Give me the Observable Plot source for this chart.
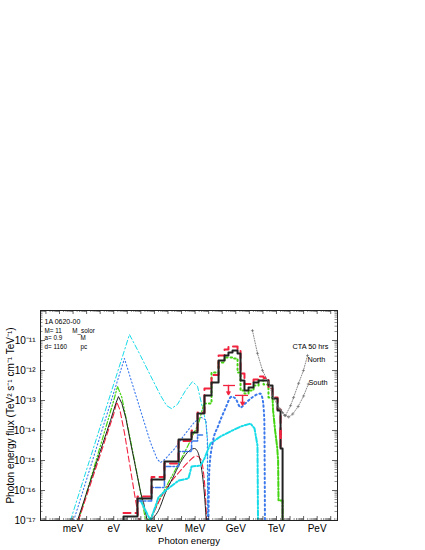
<!DOCTYPE html>
<html><head><meta charset="utf-8">
<script src="https://cdn.jsdelivr.net/npm/d3@7"></script>
<script src="https://cdn.jsdelivr.net/npm/@observablehq/plot@0.6"></script>
<style>body{margin:0;background:#fff;} svg{display:block}</style>
</head><body><div id="chart"></div>
<script>
// All values as log10: energy in eV, flux in TeV cm^-2 s^-1
// black thin model: thermal peak and MeV hump
const bkThE = [-2.67, -1.0, -0.24, 0.15, 0.35, 0.6, 0.9, 1.24, 1.6, 2.0, 2.2, 2.55];
const bkThF = [-17, -14.7, -13.67, -13.1, -12.87, -13.1, -13.6, -14.4, -15.2, -16.1, -16.4, -17.2];
const bkHuE = [2.56, 3.3, 3.82, 4.33, 4.92, 5.44, 5.96, 6.18, 6.45, 6.62, 6.75, 6.82];
const bkHuF = [-17, -16.67, -16.07, -15.6, -15.07, -14.73, -14.6, -14.7, -15.2, -15.8, -16.5, -17];
// red dashed model
const rdThE = [-2.6, 0.0, 0.22, 0.45, 0.8, 1.2, 1.6, 2.0];
const rdThF = [-17, -13.45, -13.05, -13.3, -14.1, -15.2, -16.3, -17.3];
const rdHuE = [2.7, 3.3, 4.0, 4.8, 5.5, 6.1, 6.4, 6.62, 6.78, 6.85];
const rdHuF = [-17, -16.4, -15.85, -15.4, -15.05, -14.85, -14.95, -15.4, -16.3, -17];
// green dash-dot model
const gnThE = [-2.6, 0.0, 0.28, 0.6, 1.24, 1.7, 2.0, 2.35];
const gnThF = [-17, -13.0, -12.53, -12.9, -14.33, -15.4, -16.1, -17];
const gnHuE = [2.45, 2.71, 3.45, 4.19, 4.92, 5.4, 5.66, 6.25, 6.62, 6.69];
const gnHuF = [-17, -16.93, -16.23, -15.6, -15.0, -14.57, -14.33, -13.77, -13.15, -13.1];
const gnHiE = [6.69, 7.21, 7.73, 8.17, 8.76, 9.13, 9.35, 9.64, 9.94, 10.31, 10.68, 11.05, 11.41, 11.71];
const gnHiF = [-13.1, -12.07, -11.73, -11.57, -11.6, -12.07, -12.67, -12.77, -12.67, -12.5, -12.33, -12.47, -12.9];
const gnTlE = [11.71, 11.75, 11.9, 12.05, 12.12, 12.15, 12.45, 12.45];
const gnTlF = [-12.9, -13.33, -14.0, -14.55, -15.0, -16.33, -16.33, -17];
// cyan thin dash-dot model
const cyE = [-3.19, 1.16, 1.97, 2.71, 3.45, 3.9, 4.26, 4.7, 5.29, 5.81, 6.18, 6.47, 6.77, 6.92, 6.95];
const cyF = [-17, -10.8, -11.5, -12.17, -12.83, -13.17, -13.27, -13.13, -12.67, -12.37, -12.53, -13.1, -13.67, -14.33, -17];
// cyan thick (lower) component
const cyLE = [1.97, 2.71, 3.3, 3.82, 4.78, 5.51, 5.74, 6.4, 6.69, 7.14, 7.87, 8.61, 9.35, 10.09, 10.38, 10.6, 10.64];
const cyLF = [-16.33, -17, -16.23, -16.0, -15.67, -15.6, -15.2, -15.17, -14.93, -14.43, -14.2, -14.03, -13.87, -13.77, -13.93, -14.5, -17];
// blue dotted thin model
const blE = [-2.95, 0.79, 1.75, 2.71, 3.2, 3.45, 3.8, 4.5, 5.2, 5.9, 6.4, 6.8, 6.9, 6.93];
const blF = [-17, -11.6, -13.0, -14.4, -14.95, -15.07, -14.95, -14.6, -14.15, -13.75, -13.55, -13.65, -14.3, -17];
// blue dotted thick GeV bump
const bgE = [6.98, 7.05, 7.3, 7.7, 8.2, 8.7, 9.0, 9.35, 9.7, 10.2, 10.8, 10.95, 11.1, 11.15];
const bgF = [-17, -15.3, -14.4, -13.85, -13.3, -12.87, -12.95, -13.23, -13.1, -12.9, -12.77, -12.9, -13.6, -17];
// blue dash-dot histogram (keV-MeV)
const bdE = [1.75, 2.79, 3.74, 4.78, 5.74, 6.18, 6.69];
const bdF = [-16.35, -15.9, -15.2, -14.7, -14.35, -14.15];
// black thick total histogram
const totE = [0.72, 1.75, 2.79, 3.74, 4.78, 5.74, 6.18, 6.69, 7.21, 7.73, 8.17, 8.46, 8.76, 9.13, 9.35, 9.64, 9.94, 10.31, 10.68, 11.05, 11.41, 11.71, 12.08, 12.30, 12.45];
const totF = [-16.87, -16.27, -15.63, -15.03, -14.3, -14.07, -13.43, -12.83, -12.4, -11.67, -11.5, -11.4, -11.33, -11.43, -12.33, -12.67, -12.57, -12.4, -12.33, -12.33, -12.5, -12.93, -13.33, -14.6];
// red dashed histogram
const rhF = [-16.75, -16.2, -15.55, -15.1, -14.35, -14.0, -13.4, -12.6, -12.15, -11.5, -11.3, -11.2, -11.2, -11.35, -12.1, -12.45, -12.45, -12.3, -12.2, -12.25, -12.6, -12.9, -13.3, -14.6];
// red upper limits
const ulX1 = [8.1, 8.98], ulX2 = [8.98, 9.94], ulXc = [8.46, 9.5], ulY = [-12.5, -12.83], ulYend = [-12.8, -13.15];
const redBarE = [12.3], redBarF1 = [-14.0], redBarF2 = [-14.3];
// CTA 50 hrs sensitivity
const ctaNE = [10.23, 10.6, 10.97, 11.41, 11.78, 12.15, 12.45, 12.67, 13.04, 13.26, 13.63, 13.99, 14.29];
const ctaNF = [-10.67, -11.43, -12.0, -12.4, -12.9, -13.23, -13.4, -13.5, -13.17, -12.9, -12.43, -12.0, -11.5];
const ctaSE = [12.3, 12.6, 12.9, 13.2, 13.6, 14.0, 14.35];
const ctaSF = [-13.3, -13.5, -13.55, -13.45, -13.2, -12.85, -12.45];
// labels
const xTickE = [-3, 0, 3, 6, 9, 12, 15];
const xTickNames = ["meV", "eV", "keV", "MeV", "GeV", "TeV", "PeV"];
const yTickExp = [-17, -16, -15, -14, -13, -12, -11];
const infoLeft = ["M= 11", "a= 0.9", "d= 1160"];
const infoRight = ["M_solor", "M", "pc"];
const infoF = [-10.67, -10.93, -11.23];

const P = (e, f) => e.map((v, i) => ({x: 10 ** v, y: 10 ** f[i]}));
function hist(edges, levels, floorStart, floorEnd) {
  const pts = [];
  if (floorStart) pts.push({x: 10 ** edges[0], y: 1e-17});
  levels.forEach((l, i) => pts.push({x: 10 ** edges[i], y: 10 ** l}));
  pts.push({x: 10 ** edges[edges.length - 1], y: 10 ** levels[levels.length - 1]});
  if (floorEnd) pts.push({x: 10 ** edges[edges.length - 1], y: 1e-17});
  return pts;
}
const sup = s => String(s).split("").map(c => ({"-": "⁻", "0": "⁰", "1": "¹", "2": "²", "3": "³", "4": "⁴", "5": "⁵", "6": "⁶", "7": "⁷", "8": "⁸", "9": "⁹"})[c]).join("");

const W = 425, H = 550, mt = 310, mb = 30, ml = 40, mr = 88;
const iw = W - ml - mr, ih = H - mt - mb;
const xMaj = d3.range(-5, 17).map(e => 10 ** e);
const xMin = d3.range(-6, 17).flatMap(e => d3.range(2, 10).map(k => k * 10 ** e)).filter(v => v > 10 ** -5.4 && v < 10 ** 16.5);
const yMaj = d3.range(-17, -9).map(e => 10 ** e);
const yMin = d3.range(-17, -10).flatMap(e => d3.range(2, 10).map(k => k * 10 ** e));

const RED = "#f2233f", GREEN = "#44d411", CYAN = "#18dbe8", BLUE = "#3a78ec", GRAY = "#6a6a6a";
const ln = (data, o) => Plot.line(data, {x: "x", y: "y", clip: true, ...o});

const chart = Plot.plot({
  width: W, height: H, marginTop: mt, marginBottom: mb, marginLeft: ml, marginRight: mr,
  style: {fontFamily: "Liberation Sans, Arial, sans-serif", fontSize: "9px", background: "#fff"},
  x: {type: "log", domain: [10 ** -5.4, 10 ** 16.5]},
  y: {type: "log", domain: [1e-17, 1e-10]},
  marks: [
    // thin model lines
    ln(P(cyE, cyF), {stroke: CYAN, strokeWidth: 1, strokeDasharray: "5,2.5,1.5,2.5"}),
    ln(P(blE, blF), {stroke: BLUE, strokeWidth: 1.1, strokeDasharray: "1.2,2.4"}),
    ln(P(gnThE, gnThF), {stroke: GREEN, strokeWidth: 1.2, strokeDasharray: "5,2,1.5,2,1.5,2"}),
    ln(P(gnHuE, gnHuF), {stroke: GREEN, strokeWidth: 1.2, strokeDasharray: "5,2,1.5,2,1.5,2"}),
    ln(P(rdThE, rdThF), {stroke: RED, strokeWidth: 1.1, strokeDasharray: "6,3"}),
    ln(P(rdHuE, rdHuF), {stroke: RED, strokeWidth: 1.1, strokeDasharray: "6,3", curve: "monotone-x"}),
    ln(P(bkThE, bkThF), {stroke: "#222", strokeWidth: 1}),
    ln(P(bkHuE, bkHuF), {stroke: "#222", strokeWidth: 1, curve: "monotone-x"}),
    // thick components
    ln(P(cyLE, cyLF), {stroke: CYAN, strokeWidth: 2, strokeDasharray: "5,2,1.5,2"}),
    ln(hist(bdE, bdF, false, false), {stroke: BLUE, strokeWidth: 1.6, strokeDasharray: "5,2,1.5,2", curve: "step-after"}),
    ln(P(bgE, bgF), {stroke: BLUE, strokeWidth: 2, strokeDasharray: "1.5,3", curve: "monotone-x"}),
    ln(hist(gnHiE, gnHiF, false, false), {stroke: GREEN, strokeWidth: 2, strokeDasharray: "1.5,3", curve: "step-after"}),
    ln(P(gnTlE, gnTlF), {stroke: GREEN, strokeWidth: 2, strokeDasharray: "5,2,1.5,2"}),
    ln(hist(totE, rhF, false, false), {stroke: RED, strokeWidth: 2, strokeDasharray: "7,5", curve: "step-after"}),
    ln(hist(totE, totF, true, true), {stroke: "#222", strokeWidth: 2, curve: "step-after"}),
    // red upper limits and bar
    Plot.ruleY(ulY.map((v, i) => ({x1: 10 ** ulX1[i], x2: 10 ** ulX2[i], y: 10 ** v})), {x1: "x1", x2: "x2", y: "y", stroke: RED, strokeWidth: 1.3}),
    Plot.arrow(ulY.map((v, i) => ({x: 10 ** ulXc[i], y1: 10 ** v, y2: 10 ** ulYend[i]})), {x: "x", y1: "y1", y2: "y2", stroke: RED, strokeWidth: 1.5, headLength: 5}),
    Plot.ruleX(redBarE.map((v, i) => ({x: 10 ** v, y1: 10 ** redBarF1[i], y2: 10 ** redBarF2[i]})), {x: "x", y1: "y1", y2: "y2", stroke: RED, strokeWidth: 2.5}),
    // CTA sensitivity
    ln(P(ctaNE, ctaNF), {stroke: GRAY, strokeWidth: 0.8, strokeDasharray: "1,1.5"}),
    ln(P(ctaSE, ctaSF), {stroke: GRAY, strokeWidth: 0.8, strokeDasharray: "1,1.5"}),
    Plot.dot(P(ctaNE, ctaNF).concat(P(ctaSE, ctaSF)), {x: "x", y: "y", symbol: "plus", r: 1.1, stroke: GRAY, strokeWidth: 0.6}),
    // texts
    Plot.text(["1A 0620-00"], {x: 10 ** -5.1, y: 10 ** -10.37, text: d => d, textAnchor: "start", fontSize: 7}),
    Plot.text(infoLeft, {x: 10 ** -5.1, y: (d, i) => 10 ** infoF[i], text: d => d, textAnchor: "start", fontSize: 6.3}),
    Plot.text(infoRight, {x: (d, i) => 10 ** (i === 0 ? -3.05 : -2.45), y: (d, i) => 10 ** infoF[i], text: d => d, textAnchor: "start", fontSize: 6.3}),
    Plot.text(["CTA 50 hrs"], {x: 10 ** 13.18, y: 10 ** -11.2, text: d => d, textAnchor: "start", fontSize: 7.3}),
    Plot.text(["North"], {x: 10 ** 14.29, y: 10 ** -11.63, text: d => d, textAnchor: "start", fontSize: 7.3}),
    Plot.text(["South"], {x: 10 ** 14.36, y: 10 ** -12.4, text: d => d, textAnchor: "start", fontSize: 7.3}),
    // frame ticks (inward)
    Plot.tickX(xMaj, {x: d => d, insetTop: ih - 4, stroke: "#222", strokeWidth: 0.7}),
    Plot.tickX(xMaj, {x: d => d, insetBottom: ih - 4, stroke: "#222", strokeWidth: 0.7}),
    Plot.tickX(xMin, {x: d => d, insetTop: ih - 2, stroke: "#222", strokeWidth: 0.5}),
    Plot.tickX(xMin, {x: d => d, insetBottom: ih - 2, stroke: "#222", strokeWidth: 0.5}),
    Plot.tickY(yMaj, {y: d => d, insetRight: iw - 5, stroke: "#222", strokeWidth: 0.7}),
    Plot.tickY(yMaj, {y: d => d, insetLeft: iw - 5, stroke: "#222", strokeWidth: 0.7}),
    Plot.tickY(yMin, {y: d => d, insetRight: iw - 2.5, stroke: "#222", strokeWidth: 0.5}),
    Plot.tickY(yMin, {y: d => d, insetLeft: iw - 2.5, stroke: "#222", strokeWidth: 0.5}),
    Plot.frame({stroke: "#222", strokeWidth: 1}),
    Plot.axisX({ticks: xTickE.map(e => 10 ** e), tickFormat: (d, i) => xTickNames[xTickE.indexOf(Math.round(Math.log10(d)))], tickSize: 0, tickPadding: 4, label: null, fontSize: 10}),
    Plot.axisY({ticks: yTickExp.map(e => 10 ** e), tickFormat: d => "10" + sup(Math.round(Math.log10(d))), tickSize: 0, tickPadding: 5, label: null, fontSize: 10}),
    Plot.text(["Photon energy"], {frameAnchor: "bottom", dy: 23, text: d => d, fontSize: 9.5}),
    Plot.text(["Photon energy flux (TeV² s⁻¹ cm⁻¹ TeV⁻¹)"], {frameAnchor: "left", textAnchor: "middle", rotate: -90, dx: -30, text: d => d, fontSize: 10})
  ]
});
document.getElementById("chart").appendChild(chart);
</script>
</body></html>
